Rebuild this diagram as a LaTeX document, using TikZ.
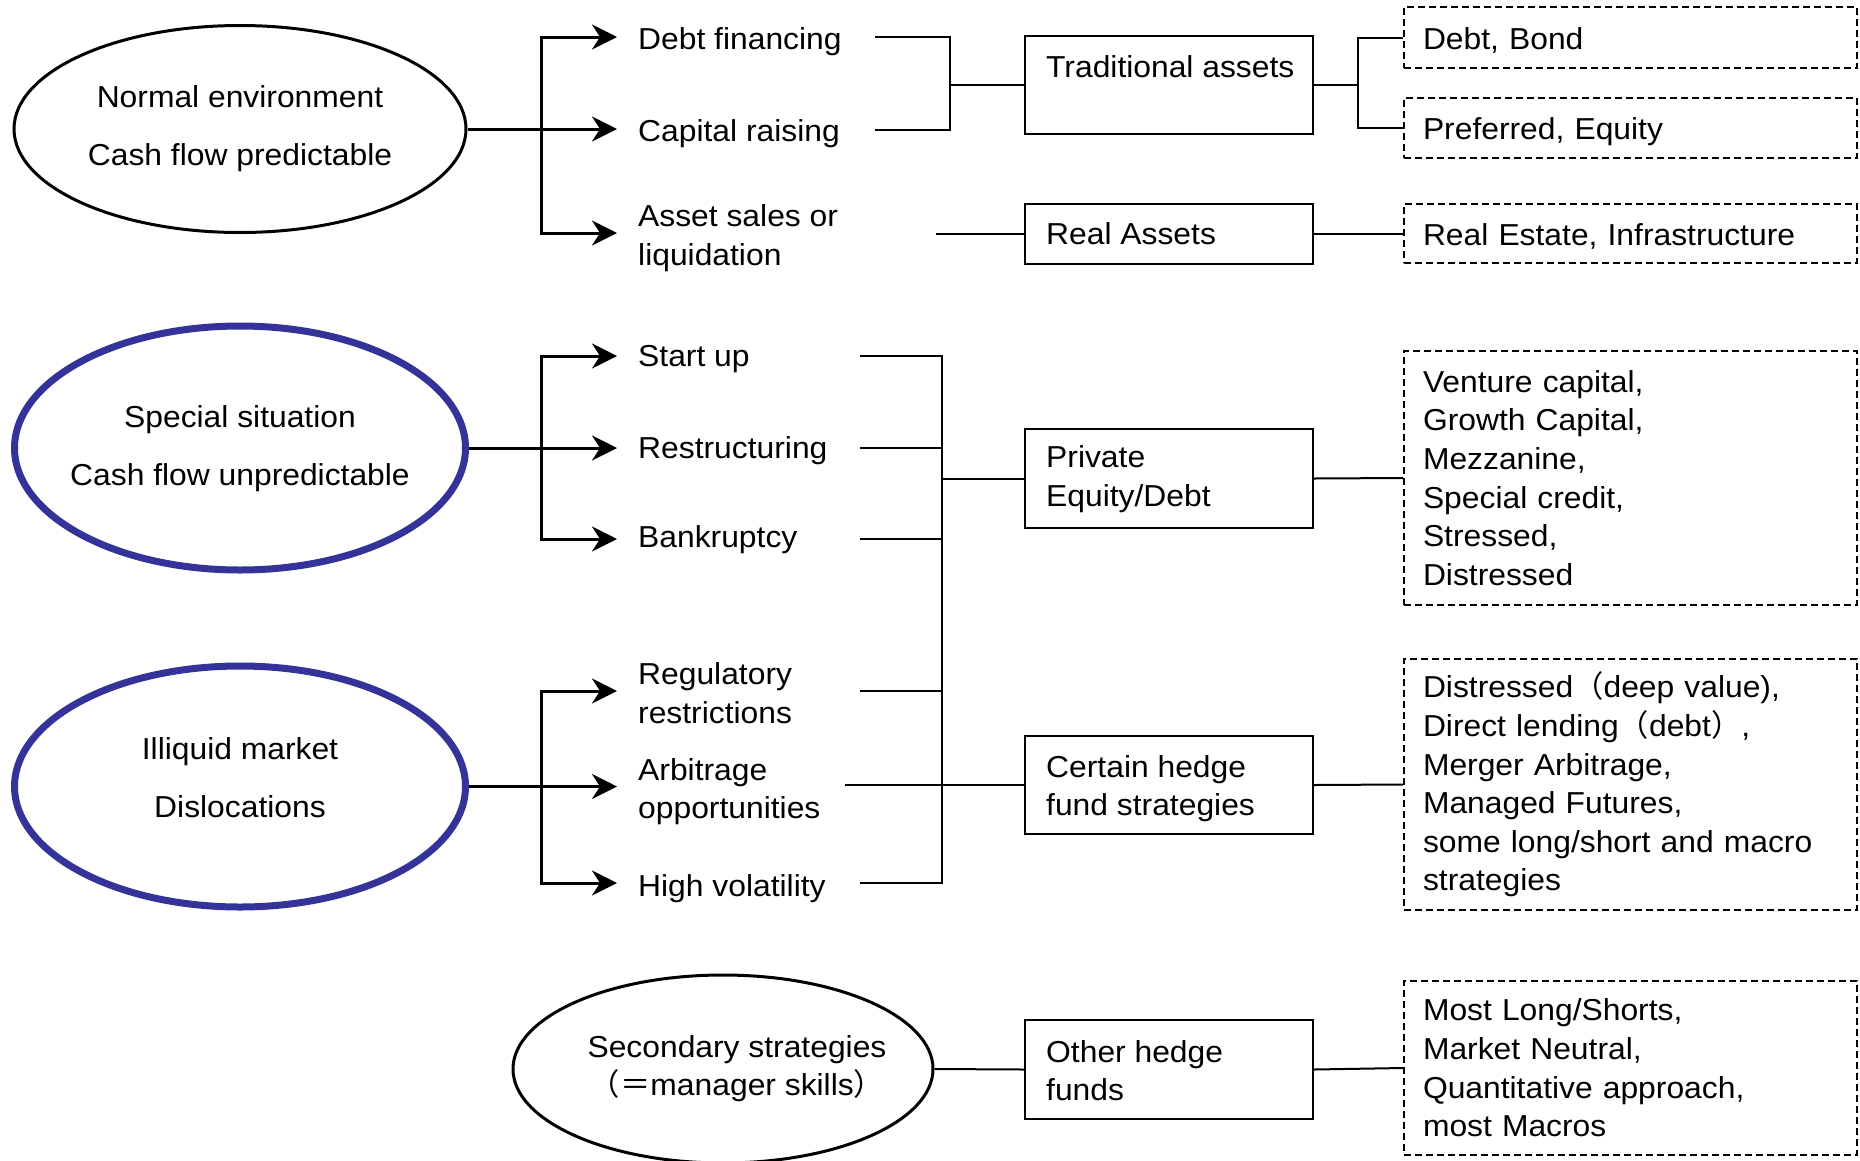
\documentclass[tikz,border=0pt]{standalone}
\usepackage{fontspec}
\setmainfont{Liberation Sans}[FakeStretch=1.05]
\newfontfamily\cjk{Noto Sans CJK SC}
\usetikzlibrary{arrows.meta,shapes.geometric,calc}
\definecolor{ellblue}{RGB}{51,51,153}
\begin{document}
\begin{tikzpicture}[x=1pt,y=-1pt,
  every node/.style={font=\fontsize{30.3}{38.6}\selectfont},
  ell/.style={ellipse, draw, line width=3pt, inner sep=0pt},
  blueell/.style={ellipse, draw=ellblue, line width=7pt, inner sep=0pt},
  elltext/.style={align=center, inner sep=0pt, font=\fontsize{30.3}{58}\selectfont},
  thickln/.style={line width=3pt},
  arr/.style={line width=3pt, -{Stealth[length=25pt,width=25pt,inset=8pt]}},
  thin/.style={line width=2pt},
  brtext/.style={anchor=west, align=left, inner sep=0pt},
  boxx/.style={draw, line width=2pt, rectangle, minimum width=288pt, inner sep=0pt},
  boxtext/.style={anchor=west, align=left, inner sep=0pt},
  dbox/.style={draw, line width=1.8pt, dash pattern=on 7pt off 4pt, rectangle, minimum width=453pt, text width=415pt, inner xsep=19pt, inner ysep=0pt, align=left},
  dbox1/.style={dbox, text height=23pt, text depth=0pt},
]
\useasboundingbox (0,0) rectangle (1860,1160);

% ---------- ellipses ----------
\node[ell, minimum width=452pt, minimum height=207pt] (e1) at (240,129) {};
\node[elltext] (e1t) at (240,129) {Normal environment\\Cash flow predictable};
\node[blueell, minimum width=451pt, minimum height=244pt] (e2) at (240,448) {};
\node[elltext] (e2t) at (240,449) {Special situation\\Cash flow unpredictable};
\node[blueell, minimum width=451pt, minimum height=241pt] (e3) at (240,786.5) {};
\node[elltext] (e3t) at (240,778) {Illiquid market\\Dislocations};
\node[ell, minimum width=420pt, minimum height=188pt] (e4) at (723,1069) {};
\node[elltext, font=\fontsize{30.3}{38}\selectfont] (e4t) at (737,1068.5) {Secondary strategies\\{\cjk （＝}manager skills{\cjk ）}};

% ---------- branch texts ----------
\node[brtext] (df) at (638,41.5) {Debt financing};
\node[brtext] (cr) at (638,133.5) {Capital raising};
\node[brtext] (as) at (638,238) {Asset sales or\\liquidation};
\node[brtext] (su) at (638,359) {Start up};
\node[brtext] (rs) at (638,450.5) {Restructuring};
\node[brtext] (bk) at (638,540) {Bankruptcy};
\node[brtext] (rr) at (638,693) {Regulatory\\restrictions};
\node[brtext] (ao) at (638,791.5) {Arbitrage\\opportunities};
\node[brtext] (hv) at (638,888.5) {High volatility};

% ---------- boxes ----------
\node[boxx, minimum height=98pt] (ta) at (1169,85) {};
\node[boxtext] (tat) at (1046,67) {Traditional assets};
\node[boxx, minimum height=60pt] (ra) at (1169,233.5) {};
\node[boxtext] (rat) at (1046,234) {Real Assets};
\node[boxx, minimum height=99pt] (pe) at (1169,478.5) {};
\node[boxtext] (pet) at (1046,479) {Private\\Equity/Debt};
\node[boxx, minimum height=98pt] (ch) at (1169,785) {};
\node[boxtext] (cht) at (1046,788.5) {Certain hedge\\fund strategies};
\node[boxx, minimum height=99pt] (oh) at (1169,1069.5) {};
\node[boxtext] (oht) at (1046,1070.5) {Other hedge\\funds};

% ---------- dashed boxes ----------
\node[dbox1, minimum height=61pt] (dbb) at (1630.5,37.5) {Debt, Bond};
\node[dbox1, minimum height=60pt] (pfe) at (1630.5,128) {Preferred, Equity};
\node[dbox1, minimum height=59pt] (res) at (1630.5,233.5) {Real Estate, Infrastructure};
\node[dbox, minimum height=254pt] (ven) at (1630.5,478) {Venture capital,\\Growth Capital,\\Mezzanine,\\Special credit,\\Stressed,\\Distressed};
\node[dbox, minimum height=251pt] (dis) at (1630.5,784.5) {Distressed{\cjk （}deep value),\\Direct lending{\cjk （}debt{\cjk ）},\\Merger Arbitrage,\\Managed Futures,\\some long/short and macro\\strategies};
\node[dbox, minimum height=174pt] (most) at (1630.5,1068) {Most Long/Shorts,\\Market Neutral,\\Quantitative approach,\\most Macros};

% ---------- arrow junctions and tips ----------
\coordinate (j1) at (541,129);
\coordinate (j2) at (541,448);
\coordinate (j3) at (541,786.5);
\coordinate (a1) at (617,37);
\coordinate (a2) at (617,129);
\coordinate (a3) at (617,233);
\coordinate (a4) at (617,356);
\coordinate (a5) at (617,448);
\coordinate (a6) at (617,539);
\coordinate (a7) at (617,691);
\coordinate (a8) at (617,786.5);
\coordinate (a9) at (617,883);

\draw[thickln] (e1.east) -- (j1);
\draw[arr] (j1) |- (a1);
\draw[arr] (j1) -- (a2);
\draw[arr] (j1) |- (a3);

\draw[thickln] (e2.east) -- (j2);
\draw[arr] (j2) |- (a4);
\draw[arr] (j2) -- (a5);
\draw[arr] (j2) |- (a6);

\draw[thickln] (e3.east) -- (j3);
\draw[arr] (j3) |- (a7);
\draw[arr] (j3) -- (a8);
\draw[arr] (j3) |- (a9);

% ---------- top group connectors ----------
\coordinate (l1) at (875,37);
\coordinate (l2) at (875,130);
\coordinate (l3) at (936,233.5);
\coordinate (k1) at (950,85);
\coordinate (k2) at (1358,85);
\draw[thin] (l1) -| (k1) |- (l2);
\draw[thin] (k1) -- (ta.west);
\draw[thin] (l3) -- (ra.west);
\draw[thin] (ta.east) -- (k2);
\draw[thin] (k2) |- (dbb.west);
\draw[thin] (k2) |- (pfe.west);
\draw[thin] (ra.east) -- (res.west);

% ---------- middle group connectors ----------
\coordinate (m1) at (860,356);
\coordinate (m2) at (860,448);
\coordinate (m3) at (860,539);
\coordinate (m4) at (860,691);
\coordinate (m5) at (845,785);
\coordinate (m6) at (860,883);
\coordinate (k3) at (942,478.5);
\coordinate (k4) at (942,785);
\draw[thin] (m1) -| (k3) |- (m3);
\draw[thin] (m2) -- (m2 -| k3);
\draw[thin] (k3) -- (k4);
\draw[thin] (m4) -| (k4) |- (m6);
\draw[thin] (m5) -- (k4);
\draw[thin] (k3) -- (pe.west);
\draw[thin] (k4) -- (ch.west);
\draw[thin] (pe.east) -- (ven.west);
\draw[thin] (ch.east) -- (dis.west);

% ---------- bottom group ----------
\draw[thin] (e4.east) -- (oh.west);
\draw[thin] (oh.east) -- (most.west);
\end{tikzpicture}
\end{document}
